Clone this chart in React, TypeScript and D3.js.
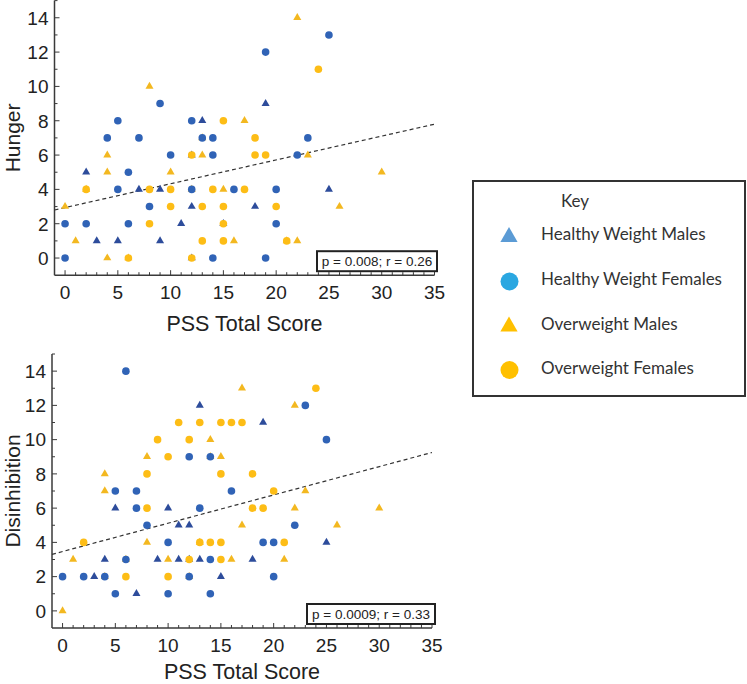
import React from 'react';
import * as d3 from 'd3';

type Pt = [number, number];

// ---------- DATA ----------
const xTicks = [0, 5, 10, 15, 20, 25, 30, 35];
const yTicks = [0, 2, 4, 6, 8, 10, 12, 14];

// Hunger plot
const hungerHM: Pt[] = [[2,5],[7,4],[9,4],[12,3],[11,2],[3,1],[5,1],[9,1],[13,8],[19,9],[18,3],[25,4],[12,6],[12,0],[15,2]];
const hungerOM: Pt[] = [[8,10],[22,14],[4,6],[13,6],[23,6],[17,8],[4,5],[10,5],[15,4],[0,3],[26,3],[1,1],[16,1],[22,1],[4,0],[30,5],[13,7],[2,4],[12,4],[6,0],[21,1]];
const hungerOF: Pt[] = [[15,8],[18,7],[12,6],[18,6],[19,6],[24,11],[2,4],[8,4],[10,4],[14,4],[17,4],[10,3],[13,3],[15,3],[20,3],[8,2],[15,2],[13,1],[15,1],[21,1],[6,0],[12,0]];
const hungerHF: Pt[] = [[9,9],[5,8],[4,7],[7,7],[12,8],[13,7],[14,7],[10,6],[14,6],[22,6],[23,7],[6,5],[5,4],[12,4],[16,4],[20,4],[8,3],[0,2],[2,2],[6,2],[20,2],[0,0],[14,0],[19,0],[25,13],[19,12]];
const hungerFit: Pt[] = [[-1, 2.8], [35, 7.8]];

// Disinhibition plot
const disHM: Pt[] = [[13,12],[19,11],[5,6],[10,6],[11,5],[12,5],[4,3],[9,3],[11,3],[13,3],[3,2],[7,1],[18,3],[15,2],[25,4],[12,3]];
const disOM: Pt[] = [[17,13],[22,12],[14,10],[8,9],[15,9],[4,8],[4,7],[23,7],[22,6],[30,6],[17,5],[26,5],[8,4],[1,3],[10,3],[16,3],[21,3],[0,0],[14,9],[6,3],[4,2],[12,2],[13,4]];
const disOF: Pt[] = [[24,13],[11,11],[13,11],[15,11],[16,11],[17,11],[9,10],[12,10],[10,9],[8,8],[15,8],[18,8],[20,7],[8,6],[18,6],[19,6],[2,4],[13,4],[14,4],[15,4],[21,4],[12,3],[15,3],[6,2],[10,2]];
const disHF: Pt[] = [[6,14],[12,9],[14,9],[5,7],[7,7],[7,6],[13,6],[8,5],[10,4],[6,3],[0,2],[2,2],[4,2],[12,2],[5,1],[10,1],[23,12],[25,10],[16,7],[22,5],[19,4],[20,4],[14,3],[20,2],[14,1]];
const disFit: Pt[] = [[-1, 3.3], [35, 9.25]];

const legendLabels = ['Healthy Weight Males', 'Healthy Weight Females', 'Overweight Males', 'Overweight Females'];
const legendShapes = ['triangle', 'circle', 'triangle', 'circle'];
const legendColors = ['#5B9BD5', '#2AA7E1', '#FFC000', '#FFC000'];

const COLORS = { HM: '#2D4C9B', HF: '#3063B6', OM: '#F3B820', OF: '#FDBD16' };
const AXIS_FONT = '"Liberation Sans", Arial, sans-serif';

const triPath = d3.symbol(d3.symbolTriangle, 28)() as string;
const legendTri = d3.symbol(d3.symbolTriangle, 128)() as string;

interface PlotProps {
  x0: number; x1: number; yTop: number; yBottom: number;
  yTitle: string; statText: string; boxX: number; boxW: number; titleOffset: number;
  HM: Pt[]; OM: Pt[]; OF: Pt[]; HF: Pt[]; fit: Pt[];
}

function Plot(p: PlotProps) {
  const x = d3.scaleLinear().domain([-1, 35]).range([p.x0, p.x1]);
  const y = d3.scaleLinear().domain([-1, 15]).range([p.yBottom, p.yTop]);
  const line = d3.line<Pt>().x(d => x(d[0])).y(d => y(d[1]));
  const xMinor = d3.range(0, 36);
  const yMinor = d3.range(0, 16);
  const axisColor = '#3a3a3a';
  const midY = (p.yTop + p.yBottom) / 2;
  const midX = (p.x0 + p.x1) / 2;
  return (
    <g>
      {/* axes */}
      <line x1={p.x0} x2={p.x1} y1={p.yBottom} y2={p.yBottom} stroke={axisColor} strokeWidth={1.5} />
      <line x1={p.x0} x2={p.x0} y1={p.yTop} y2={p.yBottom} stroke={axisColor} strokeWidth={1.5} />
      {xMinor.map(v => (
        <line key={'xm' + v} x1={x(v)} x2={x(v)} y1={p.yBottom} y2={p.yBottom - (v % 5 === 0 ? 5 : 3)} stroke={axisColor} strokeWidth={1} />
      ))}
      {yMinor.map(v => (
        <line key={'ym' + v} x1={p.x0} x2={p.x0 + (v % 2 === 0 ? 5 : 3)} y1={y(v)} y2={y(v)} stroke={axisColor} strokeWidth={1} />
      ))}
      {xTicks.map(v => (
        <text key={'xt' + v} x={x(v)} y={p.yBottom + 24} textAnchor="middle" fontSize={19} fontFamily={AXIS_FONT} fill="#222">{v}</text>
      ))}
      {yTicks.map(v => (
        <text key={'yt' + v} x={p.x0 - 6} y={y(v)} dy="0.36em" textAnchor="end" fontSize={19} fontFamily={AXIS_FONT} fill="#222">{v}</text>
      ))}
      <text x={midX} y={p.yBottom + p.titleOffset} textAnchor="middle" fontSize={21.5} fontFamily={AXIS_FONT} fill="#222">PSS Total Score</text>
      <text transform={`translate(19.5,${midY}) rotate(-90)`} textAnchor="middle" fontSize={21} fontFamily={AXIS_FONT} fill="#222">{p.yTitle}</text>
      {/* fit line */}
      <path d={line(p.fit) as string} fill="none" stroke="#333" strokeWidth={1.2} strokeDasharray="4,3" />
      {/* points */}
      {p.HM.map((d, i) => <path key={'hm' + i} d={triPath} transform={`translate(${x(d[0])},${y(d[1])})`} fill={COLORS.HM} />)}
      {p.OM.map((d, i) => <path key={'om' + i} d={triPath} transform={`translate(${x(d[0])},${y(d[1])})`} fill={COLORS.OM} />)}
      {p.OF.map((d, i) => <circle key={'of' + i} cx={x(d[0])} cy={y(d[1])} r={3.8} fill={COLORS.OF} />)}
      {p.HF.map((d, i) => <circle key={'hf' + i} cx={x(d[0])} cy={y(d[1])} r={3.8} fill={COLORS.HF} />)}
      {/* stats box */}
      <rect x={p.boxX} y={p.yBottom - 24} width={p.boxW} height={20} fill="#fff" stroke="#222" strokeWidth={2} />
      <text x={p.boxX + p.boxW / 2} y={p.yBottom - 9} textAnchor="middle" fontSize={13.5} fontFamily={AXIS_FONT} fill="#222">{p.statText}</text>
    </g>
  );
}

export default function App() {
  const legendY = [240, 285, 329.5, 373.5];
  return (
    <svg width={747} height={684} style={{ position: 'absolute', left: 0, top: 0, background: '#fff' }}>
      <rect x={0} y={0} width={747} height={684} fill="#fff" />
      <Plot x0={54.5} x1={434.5} yTop={0.6} yBottom={275.2} yTitle="Hunger" statText="p = 0.008; r = 0.26"
        boxX={317} boxW={120} titleOffset={55.5} HM={hungerHM} OM={hungerOM} OF={hungerOF} HF={hungerHF} fit={hungerFit} />
      <Plot x0={52} x1={432} yTop={354} yBottom={628} yTitle="Disinhibition" statText="p = 0.0009; r = 0.33"
        boxX={307} boxW={128} titleOffset={50.5} HM={disHM} OM={disOM} OF={disOF} HF={disHF} fit={disFit} />
      {/* legend */}
      <rect x={473} y={181} width={272} height={215} fill="#fff" stroke="#333" strokeWidth={2} />
      <text x={575} y={207} textAnchor="middle" fontSize={17} fontFamily="Lato, sans-serif" fill="#333">Key</text>
      {legendLabels.map((lab, i) => (
        <g key={lab}>
          {legendShapes[i] === 'triangle'
            ? <path d={legendTri} transform={`translate(509,${legendY[i] - 3})`} fill={legendColors[i]} />
            : <circle cx={509.5} cy={legendY[i] - 3.5} r={9} fill={legendColors[i]} />}
          <text x={541} y={legendY[i]} fontSize={17} fontFamily="Lato, sans-serif" fill="#333">{lab}</text>
        </g>
      ))}
    </svg>
  );
}
